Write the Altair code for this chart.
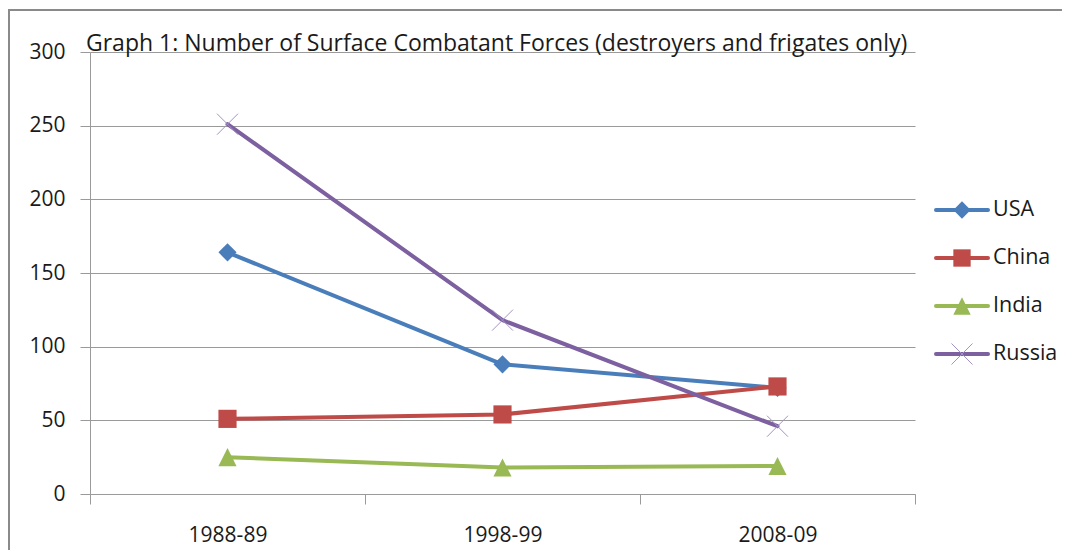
import altair as alt
import pandas as pd

periods = ["1988-89", "1998-99", "2008-09"]
series = ["USA", "China", "India", "Russia"]
usa = [164, 88, 72]
china = [51, 54, 73]
india = [25, 18, 19]
russia = [251, 118, 46]
colors = ["#4A7EBB", "#BE4B48", "#98B954", "#7D60A0"]
y_ticks = [0, 50, 100, 150, 200, 250, 300]
title_text = "Graph 1: Number of Surface Combatant Forces (destroyers and frigates only)"

rows = []
for name, vals in zip(series, [usa, china, india, russia]):
    for p, v in zip(periods, vals):
        rows.append({"period": p, "series": name, "value": v})
df = pd.DataFrame(rows)
legend_df = pd.DataFrame({"series": series})

FONT = "Open Sans"
TXT = "#1a1a1a"
GRID = "#9a9a9a"
X_PATH = "M-1,-1L1,1M-1,1L1,-1"
TRI_PATH = "M0,-1L1,1L-1,1Z"
filled_series = ["USA", "China", "India"]
filled_shapes = ["diamond", "square", TRI_PATH]

color_scale = alt.Scale(domain=series, range=colors)
shape_scale = alt.Scale(domain=filled_series, range=filled_shapes)
y_scale = alt.Scale(domain=[0, 300], nice=False, zero=True)
x_scale = alt.Scale(type="band", paddingInner=0, paddingOuter=0)

x_main = alt.X(
    "period:N", sort=periods, bandPosition=0.5, scale=x_scale,
    axis=alt.Axis(title=None, tickBand="extent", grid=False, labelAngle=0,
                  labelFont=FONT, labelFontSize=21, labelColor=TXT,
                  tickSize=10, tickColor=GRID, domainColor=GRID,
                  labelPadding=20),
)
y_main = alt.Y(
    "value:Q", scale=y_scale,
    axis=alt.Axis(title=None, values=y_ticks, grid=True, gridColor=GRID,
                  labelFont=FONT, labelFontSize=21, labelColor=TXT,
                  tickSize=10, tickColor=GRID, domainColor=GRID,
                  labelPadding=15),
)
x_other = alt.X("period:N", sort=periods, bandPosition=0.5, scale=x_scale)
y_other = alt.Y("value:Q", scale=y_scale)

frame = alt.Chart(alt.Data(values=[{"a": 1}])).mark_rect(
    fill=None, stroke="#8a8a8a", strokeWidth=2
).encode(x=alt.value(-81), y=alt.value(-42), x2=alt.value(1400), y2=alt.value(900))

title = alt.Chart(alt.Data(values=[{"a": 1}])).mark_text(
    align="left", baseline="alphabetic", font=FONT, fontSize=23, color=TXT
).encode(x=alt.value(-4), y=alt.value(-1), text=alt.value(title_text))

lines = alt.Chart(df).mark_line(strokeWidth=4, strokeJoin="round", strokeCap="round").encode(
    x=x_main, y=y_main,
    color=alt.Color("series:N", scale=color_scale, legend=None),
    detail="series:N",
)

pts = alt.Chart(df).transform_filter(
    alt.FieldOneOfPredicate(field="series", oneOf=filled_series)
).mark_point(filled=True, opacity=1, size=330).encode(
    x=x_other, y=y_other,
    color=alt.Color("series:N", scale=color_scale, legend=None),
    shape=alt.Shape("series:N", scale=shape_scale, legend=None),
)

xpts = alt.Chart(df).transform_filter(
    alt.FieldEqualPredicate(field="series", equal="Russia")
).mark_point(shape=X_PATH, filled=False, size=441, strokeWidth=1, color="#A491C8", opacity=1).encode(
    x=x_other, y=y_other,
)

main = alt.layer(frame, lines, pts, xpts, title)

leg_y = alt.Y("series:N", sort=series,
              scale=alt.Scale(type="point", domain=series, range=[158, 302], padding=0),
              axis=None)

leg_lines = alt.Chart(legend_df).mark_rule(strokeWidth=4, strokeCap="round").encode(
    x=alt.value(846), x2=alt.value(898), y=leg_y,
    color=alt.Color("series:N", scale=color_scale, legend=None),
)
leg_pts = alt.Chart(legend_df).transform_filter(
    alt.FieldOneOfPredicate(field="series", oneOf=filled_series)
).mark_point(filled=True, opacity=1, size=300).encode(
    x=alt.value(872), y=leg_y,
    color=alt.Color("series:N", scale=color_scale, legend=None),
    shape=alt.Shape("series:N", scale=shape_scale, legend=None),
)
leg_x = alt.Chart(legend_df).transform_filter(
    alt.FieldEqualPredicate(field="series", equal="Russia")
).mark_point(shape=X_PATH, filled=False, size=441, strokeWidth=1, color="#A491C8", opacity=1).encode(
    x=alt.value(872), y=leg_y,
)
leg_text = alt.Chart(legend_df).mark_text(
    align="left", baseline="middle", font=FONT, fontSize=21.5, color=TXT
).encode(x=alt.value(903), y=leg_y, text="series:N")

legend = alt.layer(leg_lines, leg_pts, leg_x, leg_text)

chart = alt.layer(main, legend).resolve_scale(
    y="independent", color="shared", shape="shared"
).properties(
    width=825, height=442,
    autosize=alt.AutoSizeParams(type="none"),
    padding={"left": 82, "top": 44, "right": 147, "bottom": 56},
    background="white",
).configure_view(stroke=None)

chart.save("out.html", embed_options={"renderer": "svg", "actions": False})
